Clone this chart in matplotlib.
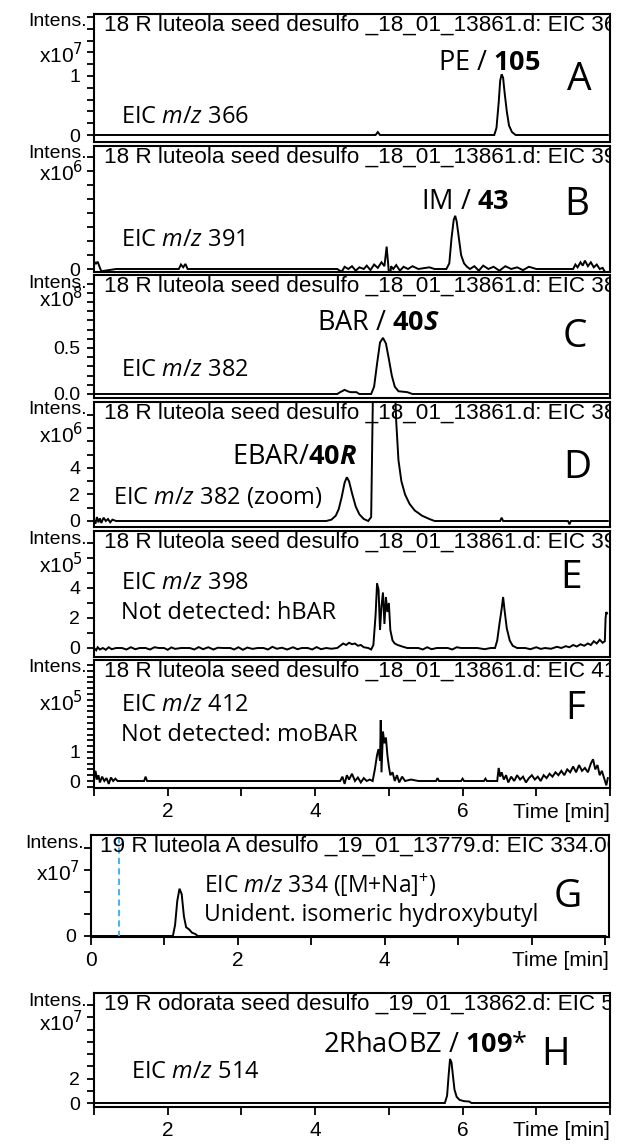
import matplotlib
matplotlib.use('Agg')
import matplotlib.pyplot as plt
from matplotlib.ticker import MultipleLocator, FuncFormatter

plt.rcParams['font.family'] = ['Liberation Sans', 'DejaVu Sans']
plt.rcParams['mathtext.fontset'] = 'custom'
plt.rcParams['mathtext.rm'] = 'Open Sans'
plt.rcParams['mathtext.it'] = 'Open Sans:italic'
plt.rcParams['mathtext.bf'] = 'Open Sans:bold'
plt.rcParams['mathtext.bfit'] = 'Open Sans:italic:bold'

# ---------------- data ----------------
titles = [
    '18 R luteola seed desulfo _18_01_13861.d: EIC 366.00',
    '18 R luteola seed desulfo _18_01_13861.d: EIC 391.00',
    '18 R luteola seed desulfo _18_01_13861.d: EIC 382.00',
    '18 R luteola seed desulfo _18_01_13861.d: EIC 382.00',
    '18 R luteola seed desulfo _18_01_13861.d: EIC 398.00',
    '18 R luteola seed desulfo _18_01_13861.d: EIC 412.00',
    '19 R luteola A desulfo _19_01_13779.d: EIC 334.00',
    '19 R odorata seed desulfo _19_01_13862.d: EIC 514.00',
]
letters = ['A', 'B', 'C', 'D', 'E', 'F', 'G', 'H']
exponents = [7, 6, 8, 6, 5, 5, 7, 7]
ytick_labels = [
    [(0, '0'), (1, '1')],
    [(0, '0')],
    [(0, '0.0'), (0.5, '0.5')],
    [(0, '0'), (2, '2'), (4, '4')],
    [(0, '0'), (2, '2'), (4, '4')],
    [(0, '0'), (1, '1')],
    [(0, '0')],
    [(0, '0'), (2, '2')],
]
peak_notes = [
    r'PE / $\mathbf{105}$',
    r'IM / $\mathbf{43}$',
    r'BAR / $\mathbf{40}\mathbfit{S}$',
    r'EBAR/$\mathbf{40}\mathbfit{R}$',
    None, None, None,
    r'2RhaOBZ / $\mathbf{109}$*',
]
eic_notes = [
    ['EIC $m/z$ 366'],
    ['EIC $m/z$ 391'],
    ['EIC $m/z$ 382'],
    ['EIC $m/z$ 382 (zoom)'],
    ['EIC $m/z$ 398', 'Not detected: hBAR'],
    ['EIC $m/z$ 412', 'Not detected: moBAR'],
    ['EIC $m/z$ 334 ([M+Na]$^{+}$)', 'Unident. isomeric hydroxybutyl'],
    ['EIC $m/z$ 514'],
]

# (time [min], intensity in units of 10^exponent)
traceA = [(1.00, 0.00), (4.82, 0.00), (4.85, 0.05), (4.88, 0.00), (6.43, 0.00),
          (6.46, 0.12), (6.49, 0.55), (6.51, 0.92), (6.53, 1.03), (6.55, 0.97),
          (6.57, 0.72), (6.60, 0.40), (6.63, 0.16), (6.67, 0.05), (6.72, 0.00),
          (7.97, 0.00)]
traceB = [(1.00, 0.05), (1.01, 0.12), (1.03, 0.10), (1.05, 0.13), (1.08, 0.02),
          (1.10, -0.04), (1.30, 0.00), (2.15, 0.00), (2.18, 0.08), (2.21, 0.03),
          (2.24, 0.09), (2.27, 0.00), (4.30, 0.00), (4.36, -0.05), (4.40, 0.04),
          (4.45, 0.00), (4.50, 0.05), (4.55, -0.03), (4.60, 0.03), (4.66, 0.00),
          (4.70, 0.06), (4.75, -0.02), (4.80, 0.08), (4.85, 0.02), (4.90, 0.12),
          (4.94, 0.05), (4.97, 0.40), (4.99, 0.10), (5.01, -0.25), (5.03, 0.05),
          (5.06, 0.00), (5.10, 0.07), (5.15, -0.03), (5.20, 0.04), (5.26, 0.00),
          (5.32, 0.05), (5.40, 0.00), (5.55, 0.03), (5.62, 0.00), (5.78, 0.00),
          (5.82, 0.10), (5.85, 0.55), (5.88, 0.88), (5.90, 0.95), (5.92, 0.85),
          (5.95, 0.55), (5.98, 0.25), (6.02, 0.10), (6.06, 0.04), (6.10, 0.00),
          (6.16, 0.05), (6.22, -0.03), (6.28, 0.06), (6.35, 0.00), (6.42, 0.04),
          (6.50, -0.03), (6.58, 0.05), (6.66, 0.00), (6.74, 0.03), (6.82, -0.02),
          (6.90, 0.04), (7.00, 0.00), (7.50, 0.00), (7.53, 0.08), (7.56, 0.03),
          (7.60, 0.12), (7.63, 0.06), (7.66, 0.15), (7.70, 0.05), (7.74, 0.12),
          (7.78, 0.03), (7.82, 0.08), (7.86, 0.00), (7.90, 0.02), (7.93, -0.05),
          (7.96, -0.12)]
traceC = [(1.00, 0.0), (4.30, 0.0), (4.34, 0.02), (4.40, 0.045), (4.44, 0.03),
          (4.48, 0.02), (4.56, 0.02), (4.60, 0.0), (4.76, 0.0), (4.80, 0.08),
          (4.84, 0.33), (4.88, 0.56), (4.92, 0.61), (4.96, 0.55), (5.00, 0.38),
          (5.04, 0.20), (5.08, 0.08), (5.13, 0.03), (5.25, 0.02), (5.32, 0.0),
          (7.97, 0.0)]
traceD = [(1.00, 0.1), (1.02, -0.2), (1.04, 0.3), (1.06, -0.1), (1.08, 0.2),
          (1.10, -0.15), (1.13, 0.25), (1.16, 0.0), (1.19, 0.15), (1.22, -0.1),
          (1.25, 0.1), (1.30, 0.0), (4.15, 0.0), (4.22, 0.1), (4.28, 0.4),
          (4.32, 0.9), (4.36, 1.8), (4.40, 2.9), (4.43, 3.3), (4.46, 3.0),
          (4.50, 2.1), (4.55, 1.1), (4.60, 0.5), (4.66, 0.15), (4.72, 0.0),
          (4.76, 0.3), (4.79, 12.0), (4.92, 61.0), (5.07, 12.0), (5.10, 7.5),
          (5.13, 4.6), (5.17, 3.0), (5.22, 2.0), (5.28, 1.3), (5.35, 0.8),
          (5.45, 0.4), (5.55, 0.15), (5.62, 0.0), (6.51, 0.0), (6.53, 0.25),
          (6.55, 0.0), (7.43, 0.0), (7.45, -0.25), (7.47, 0.0), (7.97, 0.0)]
traceE = [(1.00, 0.0), (1.03, -0.15), (1.05, 0.05), (1.08, -0.1), (1.12, 0.0),
          (1.16, -0.12), (1.20, 0.05), (1.24, -0.08), (1.30, 0.0), (1.38, 0.0),
          (1.44, -0.1), (1.50, 0.05), (1.56, -0.08), (1.62, 0.0), (1.70, 0.0),
          (1.76, -0.1), (1.82, 0.05), (1.88, 0.0), (1.95, 0.0), (2.00, -0.12),
          (2.05, 0.04), (2.10, -0.06), (2.18, 0.0), (2.30, 0.0), (2.36, -0.1),
          (2.42, 0.06), (2.48, -0.08), (2.55, 0.05), (2.62, -0.1), (2.68, 0.02),
          (2.75, 0.0), (2.85, 0.0), (2.90, -0.1), (2.96, 0.05), (3.02, -0.12),
          (3.08, 0.03), (3.15, -0.06), (3.22, 0.0), (3.30, 0.0), (3.36, -0.1),
          (3.42, 0.08), (3.48, -0.05), (3.55, 0.02), (3.62, -0.1), (3.70, 0.05),
          (3.76, -0.08), (3.82, 0.0), (3.90, 0.0), (3.96, -0.1), (4.02, 0.06),
          (4.08, -0.08), (4.15, 0.0), (4.22, -0.05), (4.30, 0.0), (4.34, 0.15),
          (4.38, 0.3), (4.42, 0.2), (4.46, 0.35), (4.50, 0.25), (4.54, 0.3),
          (4.58, 0.15), (4.62, 0.2), (4.66, 0.05), (4.72, 0.0), (4.76, -0.1),
          (4.79, 0.2), (4.82, 2.2), (4.84, 4.3), (4.86, 3.9), (4.88, 1.2),
          (4.90, 2.8), (4.92, 3.7), (4.94, 1.6), (4.96, 3.4), (4.98, 2.4),
          (5.00, 3.0), (5.02, 1.2), (5.05, 0.5), (5.08, 0.3), (5.12, 0.2),
          (5.18, 0.1), (5.25, 0.0), (5.40, 0.0), (5.46, -0.1), (5.52, 0.05),
          (5.58, -0.08), (5.65, 0.0), (5.80, 0.0), (5.86, -0.1), (5.92, 0.05),
          (5.98, 0.0), (6.20, 0.0), (6.30, -0.08), (6.38, 0.0), (6.44, 0.0),
          (6.47, 0.5), (6.50, 1.6), (6.53, 2.6), (6.55, 3.4), (6.57, 2.5),
          (6.60, 1.3), (6.64, 0.5), (6.68, 0.15), (6.74, 0.0), (6.85, 0.0),
          (6.92, -0.08), (7.00, 0.05), (7.06, -0.06), (7.12, 0.0), (7.20, -0.05),
          (7.28, 0.08), (7.34, 0.0), (7.40, 0.12), (7.45, 0.05), (7.50, 0.2),
          (7.55, 0.1), (7.60, 0.25), (7.65, 0.15), (7.70, 0.3), (7.74, 0.2),
          (7.78, 0.45), (7.82, 0.3), (7.86, 0.55), (7.90, 0.35), (7.93, 0.45),
          (7.94, 2.0), (7.95, 2.4), (7.96, 2.3)]
traceF = [(1.00, 0.0), (1.02, 0.35), (1.04, 0.05), (1.06, 0.2), (1.08, -0.05),
          (1.11, 0.15), (1.14, 0.0), (1.17, 0.1), (1.20, -0.1), (1.23, 0.12),
          (1.26, 0.0), (1.29, 0.08), (1.32, 0.0), (1.68, 0.0), (1.70, 0.15),
          (1.72, 0.0), (4.34, 0.0), (4.37, 0.15), (4.40, -0.1), (4.43, 0.2),
          (4.46, 0.05), (4.50, 0.25), (4.54, 0.0), (4.58, 0.12), (4.62, -0.05),
          (4.66, 0.1), (4.70, 0.0), (4.74, 0.05), (4.78, 0.0), (4.81, 0.4),
          (4.84, 0.9), (4.86, 1.1), (4.88, 0.7), (4.89, 2.1), (4.90, 0.3),
          (4.92, 1.7), (4.94, 1.3), (4.96, 1.5), (4.98, 0.9), (5.00, 0.5),
          (5.02, 0.2), (5.05, 0.3), (5.08, 0.0), (5.11, 0.2), (5.14, -0.05),
          (5.18, 0.15), (5.22, 0.0), (5.30, 0.05), (5.40, 0.0), (5.64, 0.0),
          (5.66, 0.1), (5.68, 0.0), (5.98, 0.0), (6.00, 0.08), (6.02, 0.0),
          (6.29, 0.0), (6.31, 0.08), (6.33, 0.0), (6.47, 0.0), (6.49, 0.45),
          (6.51, 0.15), (6.53, 0.3), (6.56, 0.05), (6.59, 0.2), (6.62, -0.05),
          (6.66, 0.15), (6.70, 0.0), (6.74, 0.2), (6.78, 0.05), (6.82, 0.15),
          (6.86, -0.05), (6.90, 0.1), (6.94, 0.2), (6.98, 0.05), (7.02, 0.15),
          (7.06, 0.0), (7.10, 0.2), (7.14, 0.1), (7.18, 0.25), (7.22, 0.15),
          (7.26, 0.3), (7.30, 0.2), (7.34, 0.35), (7.38, 0.2), (7.42, 0.4),
          (7.46, 0.3), (7.50, 0.5), (7.54, 0.3), (7.58, 0.55), (7.62, 0.35),
          (7.66, 0.45), (7.70, 0.3), (7.74, 0.6), (7.77, 0.75), (7.80, 0.4),
          (7.83, 0.55), (7.86, 0.2), (7.89, 0.35), (7.92, 0.1), (7.95, -0.15),
          (7.97, 0.1)]
traceG = [(0.00, 0.0), (1.12, 0.0), (1.15, 0.5), (1.18, 1.6), (1.21, 2.15),
          (1.24, 1.9), (1.27, 0.9), (1.30, 0.4), (1.34, 0.3), (1.38, 0.15),
          (1.42, 0.1), (1.46, 0.0), (7.00, 0.0)]
traceH = [(1.00, 0.0), (5.76, 0.0), (5.79, 0.6), (5.81, 2.2), (5.83, 3.6),
          (5.85, 3.3), (5.87, 2.2), (5.89, 1.1), (5.92, 0.5), (5.96, 0.25),
          (6.02, 0.15), (6.09, 0.12), (6.12, 0.0), (7.97, 0.0)]
traces = [traceA, traceB, traceC, traceD, traceE, traceF, traceG, traceH]
marker_time_G = 0.39

# ---------------- layout (pixels, y measured from top) ----------------
W, H = 622, 1146
# left, top, right, bottom, zero line, px per unit, tick step
boxes = [
    (94, 14, 610, 142, 135, 59, 0.2),
    (94, 146, 610, 272, 269, 56, 0.25),
    (94, 275, 610, 398, 394, 92, 0.1),
    (94, 402, 610, 527, 521, 13.25, 1),
    (94, 531, 610, 657, 648, 15, 1),
    (94, 660, 610, 788, 781, 29, 0.2),
    (90.5, 835, 609, 937, 936, 22, 1),
    (94, 993, 610, 1107, 1103, 12.25, 1),
]
xlims = [(1, 8)] * 6 + [(0, 7.05), (1, 8)]
exp_y = [55, 173, 299, 435, 565, 703, 873, 1023]
peak_xy = [(438, 63), (421, 202), (317, 323), (232, 457), None, None, None, (323, 1045)]
eic_xy = [(121, 117), (121, 240), (121, 370), (113, 497), (121, 583),
          (121, 705), (204, 885), (131, 1072)]
letter_xy = [(579, 80), (577, 205), (575, 337), (577, 468), (571, 578),
             (575, 709), (568, 897), (556, 1055)]
note_gap = 30


def fx(x):
    return x / W


def fy(y):
    return 1 - y / H


def make_fmt(pairs):
    def f(v, pos):
        for k, s in pairs:
            if abs(v - k) < 1e-6:
                return s
        return ''
    return FuncFormatter(f)


fig = plt.figure(figsize=(W / 100, H / 100), dpi=100)

for ii in range(8):
    left, top, right, bottom, zero, unit, step = boxes[ii]
    ax = fig.add_axes([fx(left), fy(bottom), (right - left) / W, (bottom - top) / H])
    for sp in ax.spines.values():
        sp.set_linewidth(1.5)

    tt, yy = zip(*traces[ii])
    ax.plot(tt, yy, color='black', lw=1.4, solid_joinstyle='miter')
    if ii == 6:
        ax.axvline(marker_time_G, color='#4db3f0', lw=1.5, ls=(0, (3, 2)))

    ax.set_xlim(*xlims[ii])
    ax.set_ylim((zero - bottom) / unit, (zero - top) / unit)

    ax.yaxis.set_major_locator(MultipleLocator(step))
    ax.yaxis.set_major_formatter(make_fmt(ytick_labels[ii]))
    ax.tick_params(axis='y', direction='out', length=5, width=1.3, pad=5, labelsize=14)

    if ii in (5, 6, 7):
        ax.xaxis.set_major_locator(MultipleLocator(1))
        shown = [(0, '0'), (2, '2'), (4, '4')] if ii == 6 else [(2, '2'), (4, '4'), (6, '6')]
        ax.xaxis.set_major_formatter(make_fmt(shown))
        ax.tick_params(axis='x', direction='out', length=6, width=1.3, pad=4, labelsize=15)
        fig.text(fx(right), fy(bottom + 24), 'Time [min]', ha='right', va='center', fontsize=15)
    else:
        ax.tick_params(axis='x', bottom=False, labelbottom=False)

    # Bruker style axis header
    fig.text(fx(left - 7), fy(top + 8), 'Intens.', ha='right', va='center', fontsize=14)
    fig.text(fx(left - 11), fy(exp_y[ii]), 'x10$^{%d}$' % exponents[ii],
             ha='right', va='center', fontsize=15, math_fontfamily='dejavusans')

    # file / trace title, cut at the right frame like the original software
    ax.text(fx(left + 10), fy(top + 11), titles[ii], transform=fig.transFigure,
            ha='left', va='center', fontsize=16.2, clip_on=True)

    # annotations
    if peak_notes[ii]:
        px, py = peak_xy[ii]
        fig.text(fx(px), fy(py), peak_notes[ii], ha='left', va='center',
                 fontsize=19.5, family='Open Sans')
    ex, ey = eic_xy[ii]
    size = 16.5 if ii == 6 else 17
    for kk, line in enumerate(eic_notes[ii]):
        fig.text(fx(ex), fy(ey + kk * note_gap), line, ha='left', va='center',
                 fontsize=size, family='Open Sans')
    lx, ly = letter_xy[ii]
    fig.text(fx(lx), fy(ly), letters[ii], ha='center', va='center',
             fontsize=28, family='Open Sans')

fig.savefig('out.png', dpi=100)
